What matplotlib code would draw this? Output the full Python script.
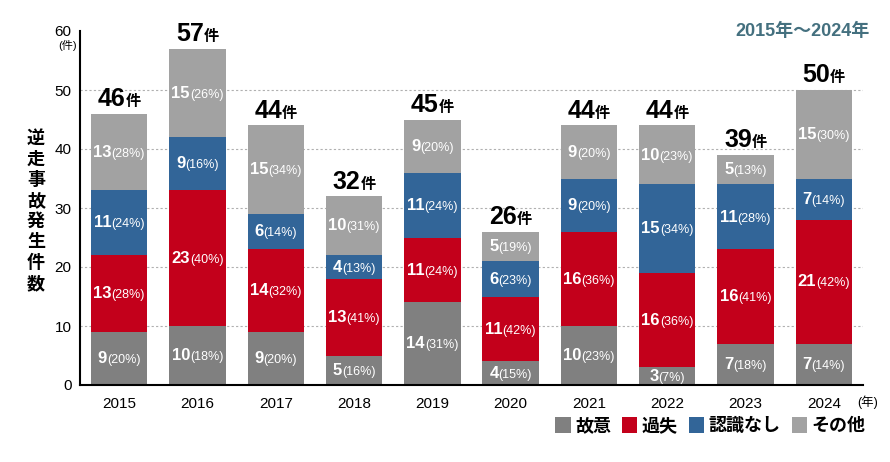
import matplotlib
matplotlib.use("Agg")
import matplotlib.pyplot as plt
from matplotlib.patches import Patch
import numpy as np

plt.rcParams['font.family'] = ['Liberation Sans', 'Noto Sans CJK JP', 'DejaVu Sans']

years = ['2015', '2016', '2017', '2018', '2019', '2020', '2021', '2022', '2023', '2024']
categories = ['故意', '過失', '認識なし', 'その他']
koi = [9, 10, 9, 5, 14, 4, 10, 3, 7, 7]
kashitsu = [13, 23, 14, 13, 11, 11, 16, 16, 16, 21]
ninshiki = [11, 9, 6, 4, 11, 6, 9, 15, 11, 7]
sonota = [13, 15, 15, 10, 9, 5, 9, 10, 5, 15]
pct_koi = [20, 18, 20, 16, 31, 15, 23, 7, 18, 14]
pct_kashitsu = [28, 40, 32, 41, 24, 42, 36, 36, 41, 42]
pct_ninshiki = [24, 16, 14, 13, 24, 23, 20, 34, 28, 14]
pct_sonota = [28, 26, 34, 31, 20, 19, 20, 23, 13, 30]
yticks = [0, 10, 20, 30, 40, 50, 60]

colors = ['#808080', '#c3001b', '#326598', '#a2a2a2']
series = [koi, kashitsu, ninshiki, sonota]
pcts = [pct_koi, pct_kashitsu, pct_ninshiki, pct_sonota]

fig = plt.figure(figsize=(8.9, 4.62), dpi=100)
ax = fig.add_axes([80/890, 1-385/462, (863-80)/890, (385-31)/462])

x = np.arange(len(years))
bottom = np.zeros(len(years))
for vals, col, name in zip(series, colors, categories):
    ax.bar(x, vals, width=0.72, bottom=bottom, color=col, zorder=2, label=name)
    bottom += np.array(vals)
totals = bottom

ax.set_xlim(-0.5, 9.5)
ax.set_ylim(0, 60)
ax.set_yticks(yticks)
ax.set_xticks(x)
ax.set_xticklabels(years)
ax.tick_params(axis='both', length=0, labelsize=11)
ax.tick_params(axis='x', pad=9)
ax.tick_params(axis='y', pad=6)
for yv in yticks[1:-1]:
    ax.axhline(yv, color='#b0b0b0', lw=0.8, ls=(0, (2, 2)), zorder=1)
for s in ['top', 'right']:
    ax.spines[s].set_visible(False)
ax.spines['left'].set_linewidth(1.5)
ax.spines['bottom'].set_linewidth(1.5)

fig.canvas.draw()
renderer = fig.canvas.get_renderer()
ax_w_px = ax.get_window_extent().width
dx_per_px = 10.0 / ax_w_px


def compound(xc, y, big, small, bsize, ssize, color, va, sweight='normal'):
    t1 = ax.text(xc, y, big, fontsize=bsize, fontweight='bold', color=color,
                 ha='left', va=va, zorder=4)
    t2 = ax.text(xc, y, small, fontsize=ssize, color=color, fontweight=sweight,
                 ha='left', va=va, zorder=4)
    w1 = t1.get_window_extent(renderer).width
    w2 = t2.get_window_extent(renderer).width
    tot = (w1 + w2) * dx_per_px
    x0 = xc - tot / 2
    t1.set_x(x0)
    t2.set_x(x0 + w1 * dx_per_px)
    return t1, t2

# segment labels
bottom = np.zeros(len(years))
for vals, pc in zip(series, pcts):
    for i in range(len(years)):
        ymid = bottom[i] + vals[i] / 2
        compound(x[i], ymid - 0.8, str(vals[i]), '(%d%%)' % pc[i], 12, 9, 'white', 'baseline')
    bottom += np.array(vals)

# totals
for i in range(len(years)):
    compound(x[i], totals[i] + 1.3, str(int(totals[i])), '件', 18, 11, 'black', 'baseline', 'bold')

# extra texts
fig.text(68/890, 1-45/462, '(件)', fontsize=8, ha='center', va='center')
fig.text(868/890, 1-402/462, '(年)', fontsize=9, ha='center', va='center')
fig.text(803/890, 1-31/462, '2015年〜2024年', fontsize=13, fontweight='bold',
         color='#44707f', ha='center', va='center')
fig.text(36/890, 1-212/462, '\n'.join('逆走事故発生件数'), fontsize=13, fontweight='bold',
         ha='center', va='center', linespacing=1.28)

leg_handles = [Patch(facecolor=c, edgecolor='none') for c in colors]
fig.legend(leg_handles, categories, loc='center right', bbox_to_anchor=(878/890, 1-426/462),
           ncol=4, frameon=False, handlelength=0.85, handleheight=0.95, handletextpad=0.25,
           columnspacing=0.6, borderpad=0.2, prop={'size': 13, 'weight': 'bold'})

fig.savefig('out.png', dpi=100)
